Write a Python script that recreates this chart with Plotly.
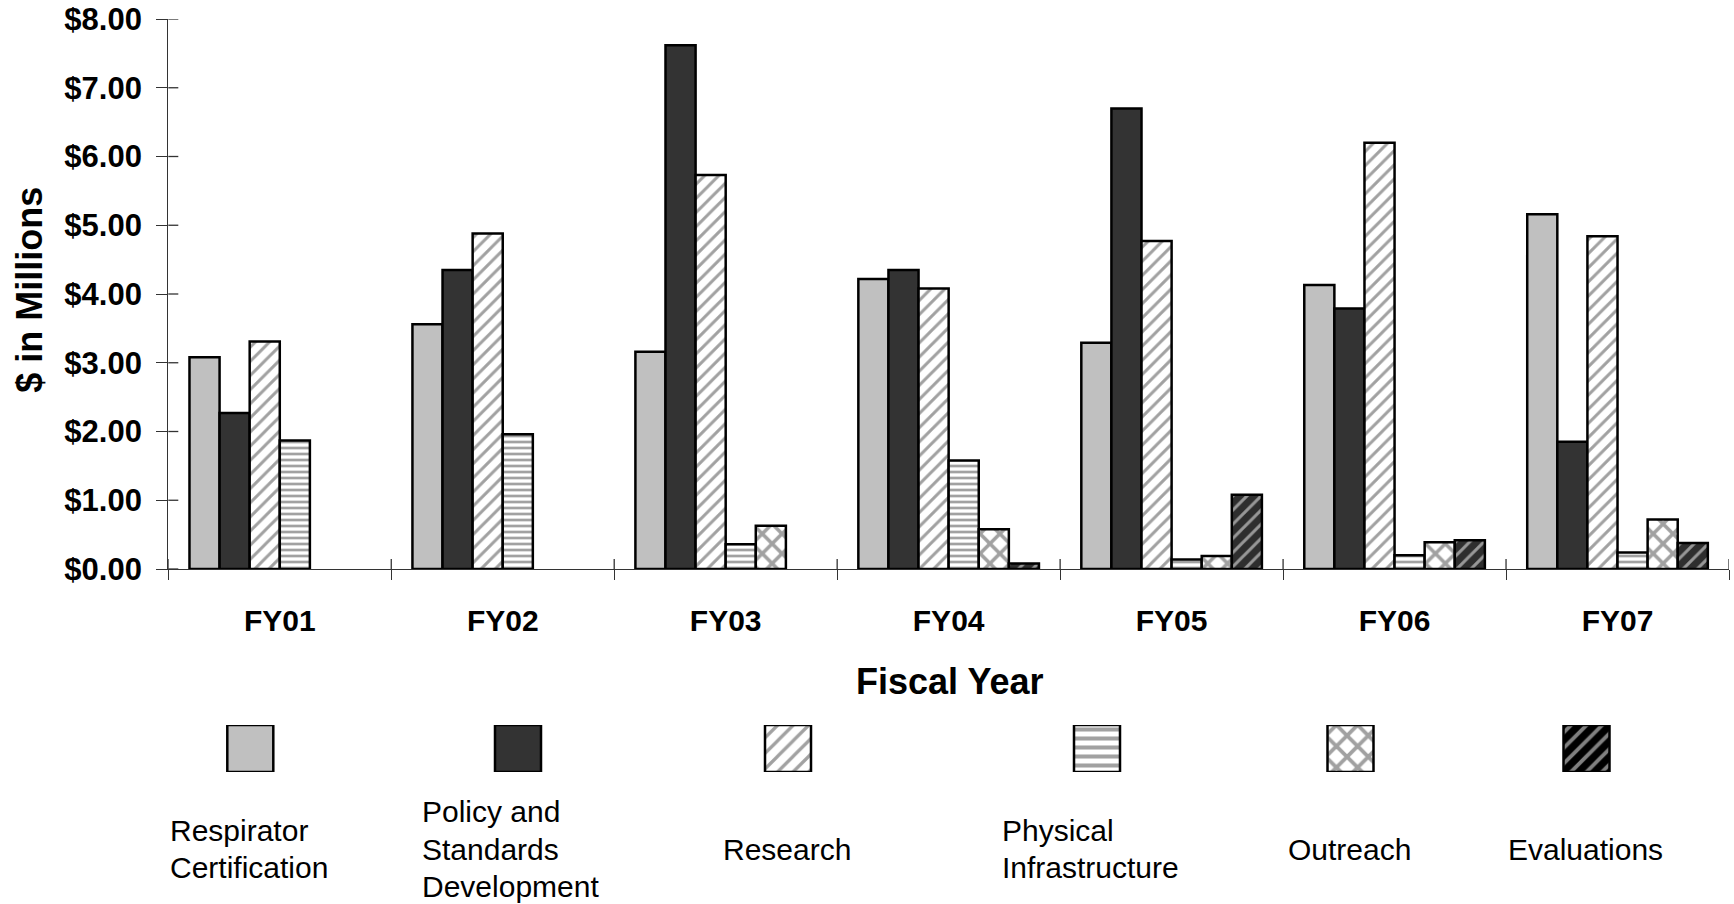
import plotly.graph_objects as go

# Budget by program area, $ millions
categories = ["FY01", "FY02", "FY03", "FY04", "FY05", "FY06", "FY07"]
respirator_cert = [3.08, 3.56, 3.16, 4.22, 3.29, 4.13, 5.16]
policy_standards = [2.27, 4.35, 7.62, 4.35, 6.70, 3.79, 1.85]
research = [3.31, 4.88, 5.73, 4.08, 4.77, 6.20, 4.84]
physical_infra = [1.87, 1.96, 0.36, 1.58, 0.14, 0.20, 0.24]
outreach = [0.0, 0.0, 0.63, 0.58, 0.19, 0.39, 0.72]
evaluations = [0.0, 0.0, 0.0, 0.08, 1.08, 0.42, 0.38]

series_names = ["Respirator Certification", "Policy and Standards Development",
                "Research", "Physical Infrastructure", "Outreach", "Evaluations"]
legend_lines = [["Respirator", "Certification"],
                ["Policy and", "Standards", "Development"],
                ["Research"],
                ["Physical", "Infrastructure"],
                ["Outreach"],
                ["Evaluations"]]
y_ticks = [0, 1, 2, 3, 4, 5, 6, 7, 8]
y_tick_text = ["$%.2f" % v for v in y_ticks]

W, H = 1734, 904
FONT = "Liberation Sans, Arial, sans-serif"

# plot area in page pixels
PX_L, PX_R, PX_T, PX_B = 168.3, 1729.0, 19.0, 569.0

bar_styles = [
    dict(color="#c0c0c0", pattern=dict(shape="")),
    dict(color="#333333", pattern=dict(shape="")),
    dict(color="#c4c4c4", pattern=dict(shape="/", bgcolor="#ffffff", size=10, solidity=0.3)),
    dict(color="#c4c4c4", pattern=dict(shape="-", bgcolor="#ffffff", size=6, solidity=0.45)),
    dict(color="#c0c0c0", pattern=dict(shape="x", bgcolor="#ffffff", size=14, solidity=0.45)),
    dict(color="#ffffff", pattern=dict(shape="/", bgcolor="#2e2e2e", fgcolor="#ffffff", size=10, solidity=0.3)),
]
icon_styles = [
    dict(color="#c0c0c0", pattern=dict(shape="")),
    dict(color="#333333", pattern=dict(shape="")),
    dict(color="#9a9a9a", pattern=dict(shape="/", bgcolor="#ffffff", size=11, solidity=0.3)),
    dict(color="#8a8a8a", pattern=dict(shape="-", bgcolor="#ffffff", size=9, solidity=0.45)),
    dict(color="#828282", pattern=dict(shape="x", bgcolor="#ffffff", size=15, solidity=0.45)),
    dict(color="#ffffff", pattern=dict(shape="/", bgcolor="#000000", fgcolor="#ffffff", size=11, solidity=0.35)),
]
series = [respirator_cert, policy_standards, research, physical_infra, outreach, evaluations]

fig = go.Figure()
for name, vals, st in zip(series_names, series, bar_styles):
    fig.add_trace(go.Bar(
        x=categories, y=vals, name=name, showlegend=False,
        marker=dict(color=st["color"], pattern=st["pattern"],
                    line=dict(color="#000000", width=[2.5 if v > 0 else 0 for v in vals])),
        hovertemplate=name + ": $%{y:.2f}M<extra></extra>",
    ))

# legend swatches drawn as bars on a hidden pixel-scaled axis
icon_centers = [250.3, 518.0, 788.0, 1097.0, 1350.5, 1586.5]
ICON_W = 46
for cx, st in zip(icon_centers, icon_styles):
    fig.add_trace(go.Bar(
        x=[cx], y=[1], base=0, width=[ICON_W], offset=-ICON_W / 2,
        xaxis="x3", yaxis="y3", showlegend=False, hoverinfo="skip",
        marker=dict(color=st["color"], pattern=st["pattern"],
                    line=dict(color="#000000", width=2.5)),
    ))

axis_col = "#333333"
fig.update_layout(
    width=W, height=H,
    margin=dict(l=0, r=0, t=0, b=0, pad=0),
    paper_bgcolor="#ffffff", plot_bgcolor="#ffffff",
    barmode="group", bargap=0.19, bargroupgap=0,
    font=dict(family=FONT, color="#000000"),
    xaxis=dict(
        domain=[PX_L / W, PX_R / W], range=[-0.5, 6.5], automargin=False,
        type="category", categoryorder="array", categoryarray=categories,
        showline=True, linecolor=axis_col, linewidth=1.3,
        ticks="outside", tickson="boundaries", ticklen=10, tickcolor=axis_col, tickwidth=1.3,
        tickfont=dict(family=FONT, size=30, weight="bold", color="#000000"),
        ticklabelstandoff=25, showgrid=False, zeroline=False, anchor="y",
    ),
    yaxis=dict(
        domain=[1 - PX_B / H, 1 - PX_T / H], range=[0, 8], automargin=False,
        tickmode="array", tickvals=y_ticks, ticktext=y_tick_text,
        showline=True, linecolor=axis_col, linewidth=1.3,
        ticks="outside", ticklen=11, tickcolor=axis_col, tickwidth=1.3,
        tickfont=dict(family=FONT, size=31, weight="bold", color="#000000"),
        ticklabelstandoff=8, showgrid=False, zeroline=False, anchor="x",
    ),
    xaxis3=dict(domain=[0, 1], range=[0, W], visible=False, anchor="y3",
                fixedrange=True, automargin=False),
    yaxis3=dict(domain=[1 - 772 / H, 1 - 725 / H], range=[0, 1], visible=False,
                anchor="x3", fixedrange=True, automargin=False),
)

# tick marks crossing to the inside of both axes
shapes = []
for v in y_ticks:
    shapes.append(dict(type="line", xref="x domain", yref="y", x0=0, x1=10 / (PX_R - PX_L),
                       y0=v, y1=v, line=dict(color=axis_col, width=1.3)))
for i in range(len(categories) + 1):
    shapes.append(dict(type="line", xref="x", yref="y domain", x0=i - 0.5, x1=i - 0.5,
                       y0=0, y1=10 / (PX_B - PX_T), line=dict(color=axis_col, width=1.3)))
fig.update_layout(shapes=shapes)

ann = []
ann.append(dict(text="$ in Millions", x=28.8 / W, y=1 - 290 / H, xref="paper", yref="paper",
                textangle=-90, showarrow=False, xanchor="center", yanchor="middle",
                font=dict(family=FONT, size=36, weight="bold", color="#000000")))
ann.append(dict(text="Fiscal Year", x=950 / W, y=1 - 681 / H, xref="paper", yref="paper",
                showarrow=False, xanchor="center", yanchor="middle",
                font=dict(family=FONT, size=36, weight="bold", color="#000000")))

text_left = [168, 420, 721, 1000, 1286, 1506]
line_step = 37.6
mid_y = 849
for left, lines in zip(text_left, legend_lines):
    n = len(lines)
    for k, line in enumerate(lines):
        yy = mid_y + (k - (n - 1) / 2) * line_step
        ann.append(dict(text=line, x=left / W, y=1 - yy / H, xref="paper", yref="paper",
                        showarrow=False, xanchor="left", yanchor="middle", align="left",
                        font=dict(family=FONT, size=30, color="#000000")))
fig.update_layout(annotations=ann)

fig.write_html("out.html")
